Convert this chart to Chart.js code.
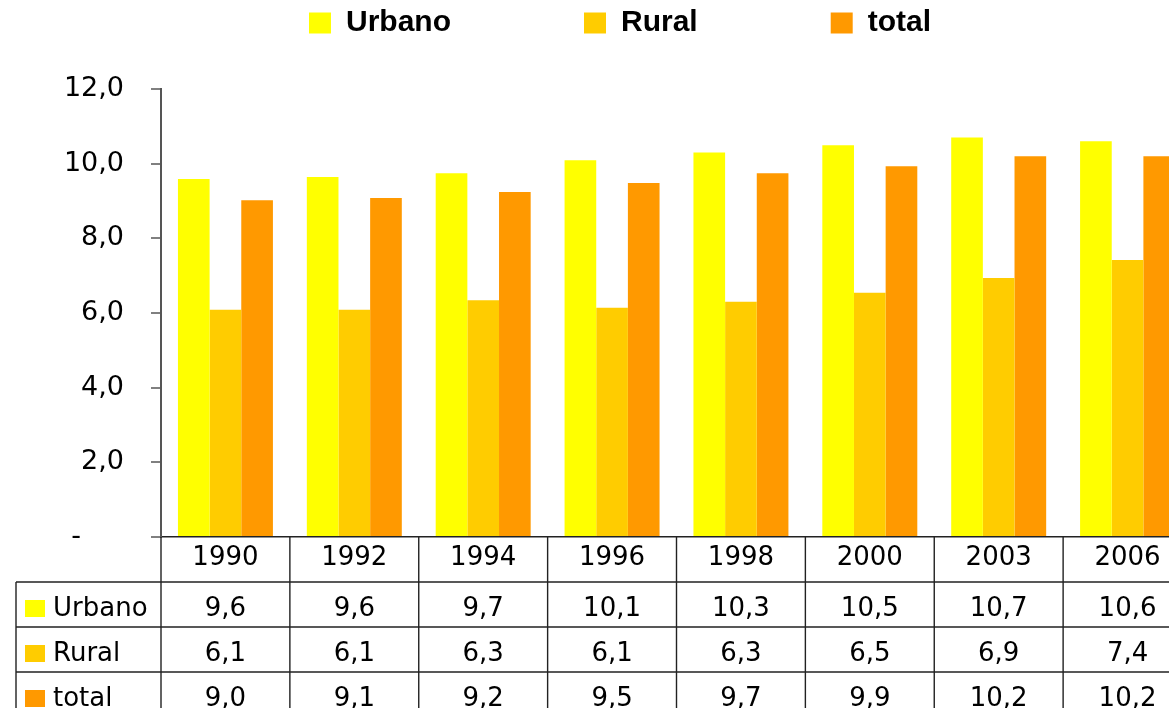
<!DOCTYPE html>
<html>
<head>
<meta charset="utf-8">
<script src="https://cdn.jsdelivr.net/npm/chart.js@4.4.1/dist/chart.umd.min.js"></script>
<style>
  html, body { margin: 0; padding: 0; overflow: hidden; background: #ffffff; width: 1169px; height: 708px; }
  #wrap { position: absolute; left: 0; top: 0; width: 1192px; height: 720px; }
</style>
</head>
<body>
<div id="wrap"><canvas id="chart"></canvas></div>
<script>
// ---- data ----
const years = ['1990', '1992', '1994', '1996', '1998', '2000', '2003', '2006'];
const seriesNames = ['Urbano', 'Rural', 'total'];
const urbano = [9.59, 9.64, 9.74, 10.09, 10.30, 10.49, 10.70, 10.60];
const rural  = [6.09, 6.09, 6.34, 6.14, 6.30, 6.54, 6.94, 7.42];
const total  = [9.02, 9.08, 9.24, 9.48, 9.74, 9.93, 10.20, 10.20];
const yTickValues = [0, 2, 4, 6, 8, 10, 12];
const yTickLabels = ['-', '2,0', '4,0', '6,0', '8,0', '10,0', '12,0'];
const seriesColors = ['#FFFF00', '#FFCC00', '#FF9900'];

const seriesValues = [urbano, rural, total];
const fmt = v => v.toFixed(1).replace('.', ',');
const TXT_FONT = '"DejaVu Sans", "Liberation Sans", sans-serif';

Chart.defaults.font.family = TXT_FONT;
Chart.defaults.color = '#000000';

// extra space below the legend
const legendSpacer = {
  id: 'legendSpacer',
  beforeInit(chart) {
    const orig = chart.legend.fit;
    chart.legend.fit = function () {
      orig.bind(chart.legend)();
      this.height += 41;
    };
  }
};

// data table under the x axis
const dataTable = {
  id: 'dataTable',
  afterDraw(chart) {
    const { ctx, chartArea, scales } = chart;
    const xs = scales.x;
    const n = years.length;
    const colW = (chartArea.right - chartArea.left) / n;
    const top = chartArea.bottom;
    const rowH = 45;
    const tableLeft = 16;
    const bottom = top + rowH * 4;
    ctx.save();
    ctx.strokeStyle = '#222222';
    ctx.lineWidth = 1.4;
    ctx.beginPath();
    for (let i = 0; i <= n; i++) {
      const xp = (i < n ? xs.getPixelForValue(i) - colW / 2 : xs.getPixelForValue(n - 1) + colW / 2);
      ctx.moveTo(xp, top);
      ctx.lineTo(xp, bottom);
    }
    for (let k = 1; k <= 4; k++) {
      const yp = top + rowH * k;
      ctx.moveTo(tableLeft, yp);
      ctx.lineTo(chartArea.right, yp);
    }
    ctx.moveTo(tableLeft, top + rowH);
    ctx.lineTo(tableLeft, bottom);
    ctx.stroke();

    ctx.font = '26px ' + TXT_FONT;
    ctx.textBaseline = 'alphabetic';
    ctx.fillStyle = '#000000';
    for (let r = 0; r < seriesNames.length; r++) {
      const rowTop = top + rowH * (r + 1);
      ctx.fillStyle = seriesColors[r];
      ctx.fillRect(25, rowTop + 18, 20, 17);
      ctx.fillStyle = '#000000';
      ctx.textAlign = 'left';
      ctx.fillText(seriesNames[r], 53, rowTop + 34);
      ctx.textAlign = 'center';
      for (let i = 0; i < n; i++) {
        ctx.fillText(fmt(seriesValues[r][i]), xs.getPixelForValue(i), rowTop + 34);
      }
    }
    ctx.restore();
  }
};

const datasets = seriesNames.map((name, i) => ({
  label: name,
  data: seriesValues[i],
  backgroundColor: seriesColors[i],
  borderWidth: 0,
  barPercentage: 1.0,
  categoryPercentage: 0.737
}));

new Chart(document.getElementById('chart'), {
  type: 'bar',
  data: { labels: years, datasets },
  plugins: [legendSpacer, dataTable],
  options: {
    responsive: true,
    maintainAspectRatio: false,
    animation: false,
    layout: { padding: { left: 48, right: 0, top: 0, bottom: 138 } },
    plugins: {
      tooltip: { enabled: false },
      legend: {
        position: 'top',
        align: 'center',
        labels: {
          boxWidth: 22,
          boxHeight: 21,
          padding: 8,
          color: '#000000',
          font: { family: '"Liberation Sans", Arial, sans-serif', size: 30, weight: 'bold' },
          generateLabels(chart) {
            const items = Chart.defaults.plugins.legend.labels.generateLabels(chart);
            items.forEach((it, i) => {
              it.lineWidth = 0;
              if (i < items.length - 1) it.text = it.text + ' '.repeat(15);
            });
            return items;
          }
        }
      }
    },
    scales: {
      x: {
        type: 'category',
        offset: true,
        grid: { display: false, drawTicks: false },
        border: { display: true, color: '#222222', width: 1.5 },
        ticks: {
          autoSkip: false,
          maxRotation: 0,
          padding: 6,
          color: '#000000',
          font: { size: 26, family: TXT_FONT }
        },
        afterFit(scale) { scale.height = 45; }
      },
      y: {
        min: 0,
        max: 12,
        grid: { drawOnChartArea: false, drawTicks: true, tickLength: 10, color: '#808080', lineWidth: 2 },
        border: { display: true, color: '#555555', width: 2 },
        afterBuildTicks(scale) { scale.ticks = yTickValues.map(v => ({ value: v })); },
        ticks: {
          padding: 27,
          color: '#000000',
          font: { size: 27, family: TXT_FONT },
          callback(value) {
            const idx = yTickValues.indexOf(value);
            const lab = idx >= 0 ? yTickLabels[idx] : '';
            return value === 0 ? lab + '     ' : lab;
          }
        },
        afterFit(scale) { scale.width = 113; }
      }
    }
  }
});
</script>
</body>
</html>
